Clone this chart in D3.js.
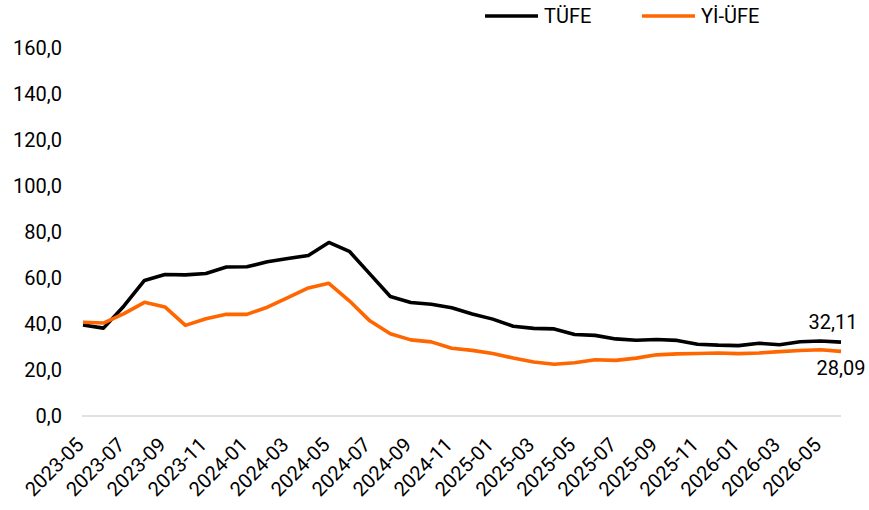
<!DOCTYPE html>
<html>
<head>
<meta charset="utf-8">
<script src="https://cdn.jsdelivr.net/npm/d3@7"></script>
<style>
  body { margin: 0; background: #fff; }
  svg text { font-family: Roboto, "Noto Sans", sans-serif; fill: #000; }
</style>
</head>
<body>
<svg width="869" height="510"></svg>
<script>
const months = [
  '2023-05','2023-06','2023-07','2023-08','2023-09','2023-10','2023-11','2023-12',
  '2024-01','2024-02','2024-03','2024-04','2024-05','2024-06','2024-07','2024-08',
  '2024-09','2024-10','2024-11','2024-12','2025-01','2025-02','2025-03','2025-04',
  '2025-05','2025-06','2025-07','2025-08','2025-09','2025-10','2025-11','2025-12',
  '2026-01','2026-02','2026-03','2026-04','2026-05','2026-06'
];

// TÜFE (annual %)
const tufe = [
  39.59, 38.21, 47.83, 58.94, 61.53, 61.36, 61.98, 64.77,
  64.86, 67.07, 68.50, 69.80, 75.45, 71.60, 61.78, 51.97,
  49.38, 48.58, 47.09, 44.38, 42.12, 39.05, 38.10, 37.86,
  35.41, 35.05, 33.52, 32.95, 33.29, 32.87, 31.2, 30.8,
  30.6, 31.6, 31.0, 32.3, 32.6, 32.11
];

// Yİ-ÜFE (annual %)
const yiufe = [
  40.76, 40.42, 44.50, 49.41, 47.44, 39.39, 42.25, 44.22,
  44.20, 47.29, 51.47, 55.66, 57.68, 50.09, 41.37, 35.75,
  33.09, 32.24, 29.47, 28.52, 27.20, 25.21, 23.50, 22.50,
  23.13, 24.45, 24.19, 25.16, 26.59, 27.00, 27.2, 27.4,
  27.1, 27.4, 28.0, 28.5, 28.8, 28.09
];

const yTicks = [0, 20, 40, 60, 80, 100, 120, 140, 160];
const seriesNames = ['TÜFE', 'Yİ-ÜFE'];
const colors = ['#000000', '#ff6600'];

const svg = d3.select('svg');
const fmt = v => d3.format('.1f')(v).replace('.', ',');
const fmt2 = v => d3.format('.2f')(v).replace('.', ',');

const x = d3.scalePoint().domain(months).range([83, 841]);
const y = d3.scaleLinear().domain([0, 160]).range([416, 48]);

// baseline
svg.append('line')
  .attr('x1', 82).attr('x2', 841)
  .attr('y1', y(0)).attr('y2', y(0))
  .attr('stroke', '#d9d9d9').attr('stroke-width', 1.5);

// y labels
svg.append('g').selectAll('text')
  .data(yTicks)
  .enter().append('text')
    .attr('x', 62)
    .attr('y', d => y(d))
    .attr('dy', '0.35em')
    .attr('text-anchor', 'end')
    .attr('font-size', 20)
    .text(fmt);

// x labels, every other month
svg.append('g').selectAll('text')
  .data(months.filter((d, i) => i % 2 === 0))
  .enter().append('text')
    .attr('transform', d => `translate(${x(d) + 2},${446}) rotate(-45)`)
    .attr('text-anchor', 'end')
    .attr('font-size', 20)
    .text(d => d);

const line = d3.line()
  .x((d, i) => x(months[i]))
  .y(d => y(d));

[tufe, yiufe].forEach((s, k) => {
  svg.append('path')
    .datum(s)
    .attr('fill', 'none')
    .attr('stroke', colors[k])
    .attr('stroke-width', 3.6)
    .attr('stroke-linejoin', 'round')
    .attr('d', line);
});

// end labels
const last = months[months.length - 1];
svg.append('text')
  .attr('x', x(last) - 8).attr('y', y(tufe[tufe.length - 1]) - 13)
  .attr('text-anchor', 'middle').attr('font-size', 20)
  .text(fmt2(tufe[tufe.length - 1]));
svg.append('text')
  .attr('x', x(last) + 0).attr('y', y(yiufe[yiufe.length - 1]) + 24)
  .attr('text-anchor', 'middle').attr('font-size', 20)
  .text(fmt2(yiufe[yiufe.length - 1]));

// legend
const legendX = [485, 642];
const legend = svg.append('g').selectAll('g')
  .data(seriesNames)
  .enter().append('g')
    .attr('transform', (d, i) => `translate(${legendX[i]},16)`);
legend.append('line')
  .attr('x1', 0).attr('x2', 53)
  .attr('stroke', (d, i) => colors[i])
  .attr('stroke-width', 3.6);
legend.append('text')
  .attr('x', 59).attr('dy', '0.35em')
  .attr('font-size', 20)
  .text(d => d);
</script>
</body>
</html>
